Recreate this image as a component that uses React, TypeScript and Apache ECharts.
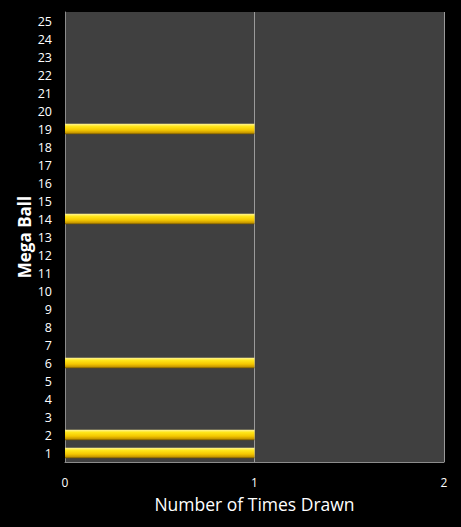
import React, { useEffect, useRef } from 'react'
import * as echarts from 'echarts'

const categories = Array.from({ length: 25 }, (_, i) => String(i + 1))
const drawnBalls = ['1', '2', '6', '14', '19']
const counts = categories.map((c) => (drawnBalls.includes(c) ? 1 : 0))
const xTicks = [0, 1, 2]

const App: React.FC = () => {
  const chartRef = useRef<HTMLDivElement>(null)

  useEffect(() => {
    document.body.style.margin = '0'
    document.body.style.background = '#000'
    if (!chartRef.current) return
    const chart = echarts.init(chartRef.current, null, { renderer: 'svg' })
    const font = 'Open Sans, DejaVu Sans, sans-serif'
    chart.setOption({
      animation: false,
      backgroundColor: '#000',
      grid: {
        left: 65,
        right: 17,
        top: 12,
        bottom: 65,
        show: true,
        backgroundColor: '#404040',
        borderWidth: 0,
      },
      xAxis: {
        type: 'value',
        min: xTicks[0],
        max: xTicks[xTicks.length - 1],
        interval: 1,
        name: 'Number of Times Drawn',
        nameLocation: 'middle',
        nameGap: 33,
        nameTextStyle: { color: '#fff', fontSize: 17.5, fontFamily: font },
        axisLine: { show: true, lineStyle: { color: '#8c8c8c', width: 1 } },
        axisTick: { show: false },
        axisLabel: { color: '#fff', fontSize: 12, fontFamily: font, margin: 14 },
        splitLine: { show: true, lineStyle: { color: '#9a9a9a', width: 1 } },
      },
      yAxis: {
        type: 'category',
        data: categories,
        name: 'Mega Ball',
        nameLocation: 'middle',
        nameGap: 32,
        nameMoveOverlap: false,
        nameTextStyle: { color: '#fff', fontSize: 17, fontWeight: 'bold', fontFamily: font },
        axisLine: { show: true, lineStyle: { color: '#8c8c8c', width: 1 } },
        axisTick: { show: false },
        axisLabel: { color: '#fff', fontSize: 12.5, fontFamily: font, margin: 13 },
        splitLine: { show: false },
      },
      series: [
        {
          type: 'bar',
          data: counts,
          barWidth: '58%',
          itemStyle: {
            color: new echarts.graphic.LinearGradient(0, 0, 0, 1, [
              { offset: 0, color: '#fff59a' },
              { offset: 0.25, color: '#ffe61a' },
              { offset: 0.6, color: '#f5c800' },
              { offset: 0.85, color: '#c99a00' },
              { offset: 1, color: '#6e5200' },
            ]),
          },
        },
      ],
    })
    return () => chart.dispose()
  }, [])

  return <div ref={chartRef} style={{ width: 461, height: 527 }} />
}

export default App
